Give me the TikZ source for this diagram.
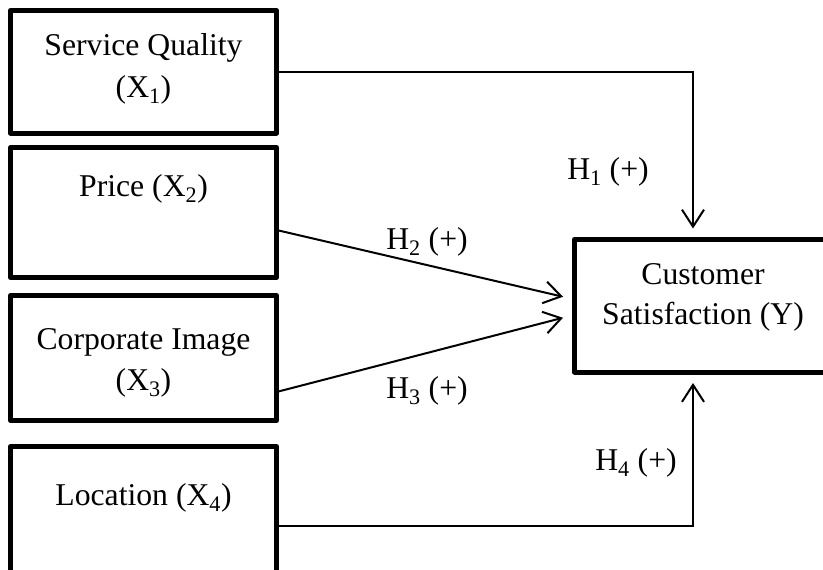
\documentclass[tikz,border=0pt]{standalone}
\usepackage{fontspec}
\setmainfont{Liberation Serif}
\usetikzlibrary{arrows.meta,calc}
\begin{document}
\begin{tikzpicture}[x=1pt,y=-1pt,
  box/.style={draw,line width=5pt,line join=round,minimum width=266pt,inner sep=0pt,outer sep=0pt},
  lbl/.style={anchor=base,inner sep=0pt,font=\fontsize{31.7}{40}\selectfont},
  conn/.style={line width=2pt,-{Straight Barb[length=17pt,width=22pt]}}
]
\useasboundingbox (0,0) rectangle (823,570);
\clip (0,0) rectangle (823,570);
% boxes
\node[box,minimum height=122.5pt] (b1) at (143.5,71.75) {};
\node[box,minimum height=130pt] (b2) at (143.5,212.5) {};
\node[box,minimum height=125pt] (b3) at (143.5,358) {};
\node[box,minimum height=159pt] (b4) at (143.5,526) {};
\node[box,minimum width=257pt,minimum height=132.5pt] (y) at (703,305.75) {};
% texts
\node[lbl] (t1a) at (143.5,55) {Service Quality};
\node[lbl] (t1b) at (143.5,97) {(X\textsubscript{1})};
\node[lbl] (t2) at (143.5,196) {Price (X\textsubscript{2})};
\node[lbl] (t3a) at (143.5,349) {Corporate Image};
\node[lbl] (t3b) at (143.5,390) {(X\textsubscript{3})};
\node[lbl] (t4) at (143.5,505) {Location (X\textsubscript{4})};
\node[lbl] (tya) at (703,284) {Customer};
\node[lbl] (tyb) at (703,324) {Satisfaction (Y)};
% connectors
\coordinate (v) at (693,0);
\draw[conn,shorten >=11pt] (b1.east) -| (v |- y.north);
\draw[conn,shorten >=11pt] (b4.east) -| (v |- y.south);
\draw[conn] ($(b2.east)+(0,17.5)$) -- ($(y.west)+(-11.5,-9)$);
\draw[conn] ($(b3.east)+(0,34)$) -- ($(y.west)+(-11.5,12)$);
% hypothesis labels
\node[lbl] (h1) at (608,179) {H\textsubscript{1} (+)};
\node[lbl] (h2) at (427,249) {H\textsubscript{2} (+)};
\node[lbl] (h3) at (427,398) {H\textsubscript{3} (+)};
\node[lbl] (h4) at (636,470) {H\textsubscript{4} (+)};
\end{tikzpicture}
\end{document}
